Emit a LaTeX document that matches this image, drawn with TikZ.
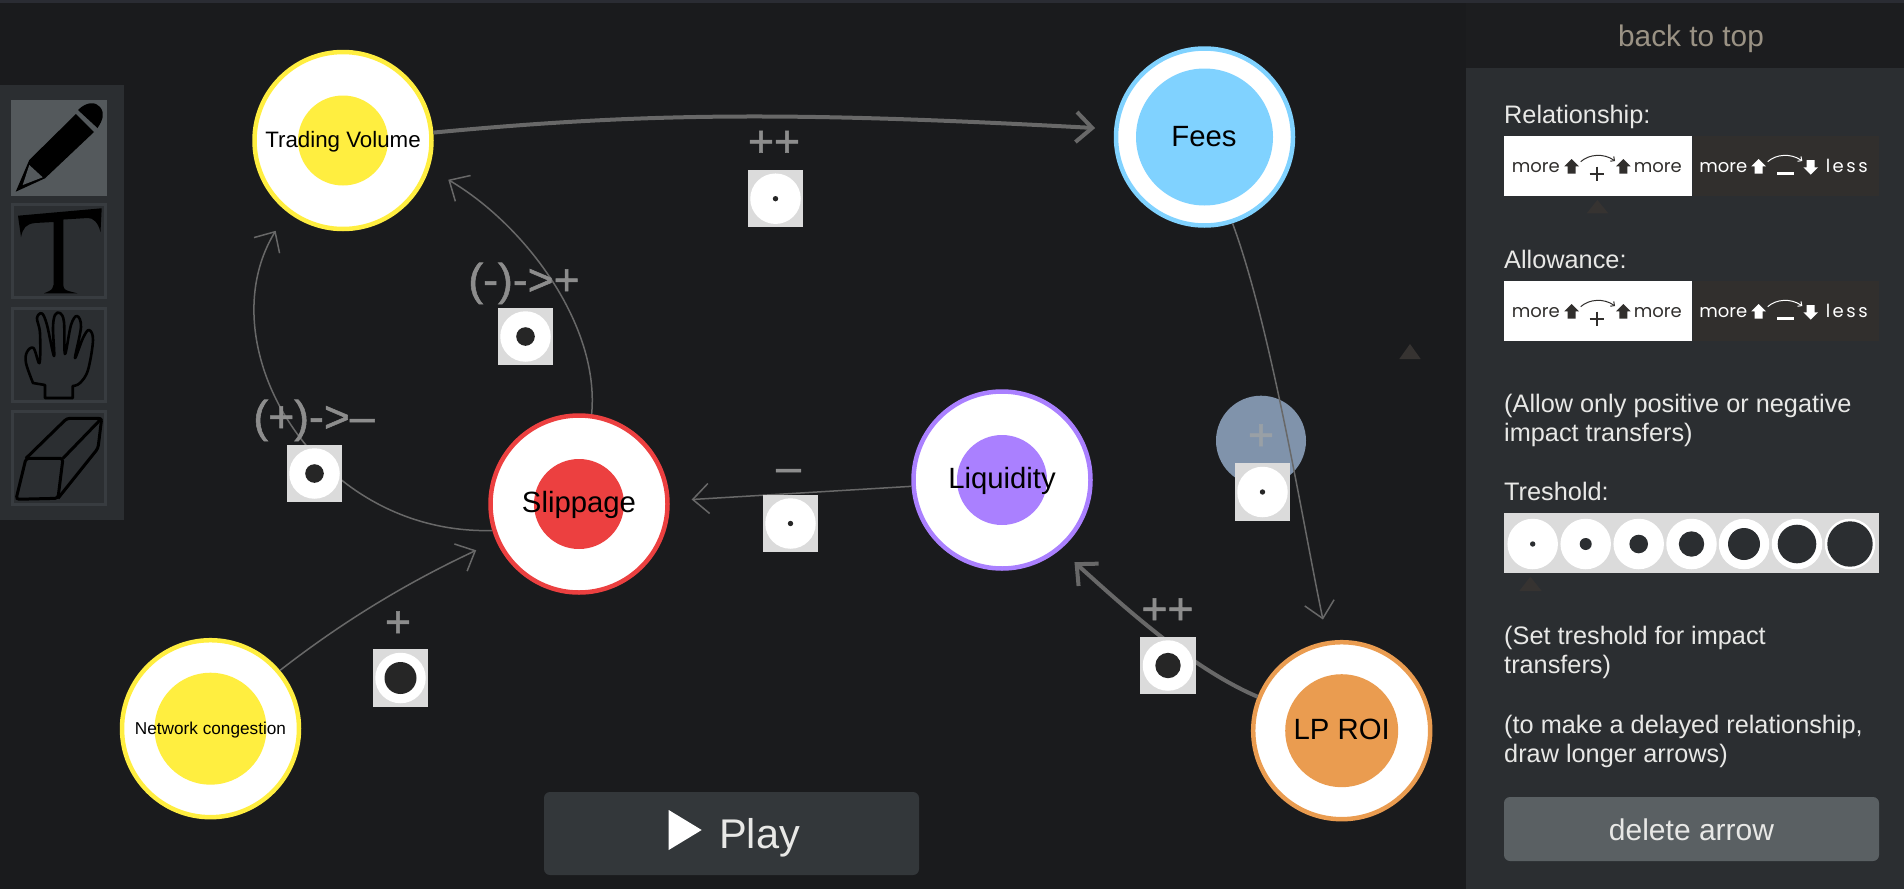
\documentclass[tikz,border=0pt]{standalone}
\usepackage{fontspec}
\usepackage{xcolor}
\usepackage{tikz}
\usetikzlibrary{arrows.meta}
\setmainfont{Liberation Sans}
\newfontfamily\signfont[FakeBold=1.2]{Liberation Sans}
\newfontfamily\iconfont{Poppins}
\newfontfamily\lessfont[LetterSpace=14]{Poppins}
\definecolor{canvas_bg}{HTML}{1A1B1D}
\definecolor{header_bg}{HTML}{1C1D1F}
\definecolor{panel_bg}{HTML}{2B2E31}
\definecolor{strip_bg}{HTML}{2A2C33}
\definecolor{tool_edge}{HTML}{383C40}
\definecolor{tool_active}{HTML}{54595C}
\definecolor{delete_fill}{HTML}{5A6063}
\definecolor{play_fill}{HTML}{33373A}
\definecolor{link_grey}{HTML}{686868}
\definecolor{sign_grey}{HTML}{8D8D8D}
\definecolor{hole_dark}{HTML}{262626}
\definecolor{box_grey}{HTML}{DBDBDB}
\definecolor{icon_dark}{HTML}{312F2D}
\definecolor{mark_dark}{HTML}{363331}
\definecolor{soft_white}{HTML}{E8E8E6}
\definecolor{top_link}{HTML}{9A9284}
\definecolor{yellow_node}{HTML}{FFEE40}
\definecolor{blue_node}{HTML}{80D2FF}
\definecolor{purple_node}{HTML}{AA80FF}
\definecolor{red_node}{HTML}{EC4040}
\definecolor{orange_node}{HTML}{EA9C50}
\definecolor{pending_fill}{HTML}{8093AB}
\definecolor{pending_sign}{HTML}{99A0A6}

\begin{document}
\begin{tikzpicture}[x=1pt,y=-1pt]
      \tikzstyle{stock_ring}=[circle,fill=white,line width=4.5pt,minimum size=177pt,inner sep=0pt]
      \tikzstyle{stock_core}=[circle,outer sep=0pt,inner sep=0pt]
      \tikzstyle{stock_text}=[anchor=base,text=black,inner sep=0pt,font=\fontsize{29.3}{34}\selectfont]
      \tikzstyle{impact_box}=[rectangle,fill=box_grey,minimum width=55.5pt,minimum height=57.5pt,inner sep=0pt,outer sep=0pt]
      \tikzstyle{impact_disc}=[circle,fill=white,minimum size=50.5pt,inner sep=0pt,outer sep=0pt]
      \tikzstyle{impact_hole}=[circle,fill=hole_dark,inner sep=0pt,outer sep=0pt]
      \tikzstyle{sign_text}=[anchor=base,text=sign_grey,inner sep=0pt,font=\signfont\fontsize{44.5}{50}\selectfont]
      \tikzstyle{link_thin}=[draw=link_grey,line width=1.5pt,shorten >=22pt,-{Straight Barb[length=16pt,width=30pt]}]
      \tikzstyle{link_thick}=[link_thin,line width=4pt,shorten >=19pt]
      \tikzstyle{panel_text}=[anchor=base west,text=soft_white,inner sep=0pt,align=left,font=\fontsize{25.3}{29}\selectfont]
      \tikzstyle{tool_button}=[draw=tool_edge,line width=3pt]
      \tikzstyle{icon_text}=[anchor=base,inner sep=0pt,font=\iconfont\fontsize{18}{20}\selectfont]
      \tikzstyle{less_text}=[anchor=base,inner sep=0pt,font=\lessfont\fontsize{18}{20}\selectfont]
      \tikzstyle{marker_mark}=[fill=mark_dark]

      \useasboundingbox (0,0) rectangle (1904,889);
      \fill[canvas_bg] (0,0) rectangle (1904,889);
      \fill[strip_bg] (0,0) rectangle (1904,3);
      \fill[header_bg] (1466,3) rectangle (1904,68);
      \fill[panel_bg] (1466,68) rectangle (1904,889);

      \begin{scope}
        \fill[panel_bg] (0,85) rectangle (124,520);
        \fill[tool_active] (11,100) rectangle (107,196);
        \draw[tool_button] (12.5,204.5) rectangle (105.5,297.5);
        \draw[tool_button] (12.5,308.5) rectangle (105.5,401.5);
        \draw[tool_button] (12.5,411.5) rectangle (105.5,504.5);

        \fill[black] (15.7,191.7) -- (29.3,160) -- (76,114) -- (94,132) -- (45,178.3) -- cycle;
        \fill[black] (78,110) .. controls (87,101) and (96,102) .. (100,107) .. controls (105,113) and (103,120) .. (97.5,128) -- cycle;
        \fill[tool_active] (29.3,165) -- (42.7,177.3) -- (22.7,185) -- cycle;

        \fill[black] (18,215.7) -- (101.7,208.3) -- (100.5,232) .. controls (98,222) and (93,218) .. (88,218) -- (63.5,219.5) -- (63.3,285) .. controls (64,290) .. (77.3,293.3) -- (44,293.3) .. controls (52,290) .. (53.5,285) -- (53.5,222) -- (35,223) .. controls (26,224) and (23,228) .. (21,237) -- cycle;

        \draw[black,line width=2.6pt,line join=round] (45,398) -- (45,385) -- plot[smooth,tension=.6] coordinates {(33,383) (26,363) (27,352) (33.5,348) (39.5,363) (40,333) (37,318) (42,313.5) (47,325) (54,356) (53,328) (55,315) (60,313) (64,322) (65,354) (71,325) (77,316) (81,327) (75,358) (83,338) (89,330) (93,340) (88,370) (80,383) (72.7,386)} -- (72.7,398) -- cycle;

        \draw[black,line width=3pt,rounded corners=3pt] (26,458.3) -- (63,458.3) -- (58,498.3) -- (16,499.3) -- cycle;
        \draw[black,line width=3pt,rounded corners=3pt] (26,458.3) -- (67,418.3) -- (101.7,418.3) -- (98,448.3) -- (58,498.3);
        \draw[black,line width=3pt,rounded corners=2pt] (63,458.3) -- (101.7,418.3);
      \end{scope}

      \node (top_text) at (1691,46.5) [anchor=base,text=top_link,inner sep=0pt,font=\fontsize{29.8}{34}\selectfont] {back to top};
      \node (rel_text) at (1504,123.7) [panel_text] {Relationship:};
      \node (allow_text) at (1504,268.3) [panel_text] {Allowance:};
      \node (allow_note) at (1504,441) [panel_text] {(Allow only positive or negative\\impact transfers)};
      \node (tresh_text) at (1504,500) [panel_text] {Treshold:};
      \node (tresh_note) at (1504,673) [panel_text] {(Set treshold for impact\\transfers)};
      \node (delay_note) at (1504,762) [panel_text] {(to make a delayed relationship,\\draw longer arrows)};

      \foreach \rowname/\rowtop in {rel/136,allow/281} {
        \begin{scope}[shift={(1504,\rowtop)}]
          \fill[white] (0,0) rectangle (187.7,59.7);
          \fill[icon_dark] (188.5,0) rectangle (375,59.7);
          \node (\rowname_more_a) at (31.8,36.3) [icon_text,text=icon_dark] {more};
          \node (\rowname_more_b) at (153.8,36.3) [icon_text,text=icon_dark] {more};
          \node (\rowname_more_c) at (219.3,36.3) [icon_text,text=white] {more};
          \node (\rowname_less) at (342.7,36.3) [less_text,text=white] {less};
          \foreach \ax/\acol in {67.7/icon_dark,119.3/icon_dark,254.7/white} {
            \fill[\acol] (\ax,23) -- (\ax+7.3,30.3) -- (\ax+4,30.3) -- (\ax+4,37.7) -- (\ax-4,37.7) -- (\ax-4,30.3) -- (\ax-7.3,30.3) -- cycle;
          }
          \fill[white] (306.7,38.7) -- (299.4,31.4) -- (302.7,31.4) -- (302.7,24) -- (310.7,24) -- (310.7,31.4) -- (314,31.4) -- cycle;
          \draw[icon_dark,line width=1pt,-{Straight Barb[length=3pt,width=6pt]}] (76.7,25.7) .. controls (85,18) and (100,17) .. (111,25);
          \draw[white,line width=1pt,-{Straight Barb[length=3pt,width=6pt]}] (263.7,25.7) .. controls (272,18) and (287,17) .. (298.3,25);
          \draw[icon_dark,line width=2pt] (85.7,38) -- (100.3,38) (93,30.7) -- (93,45.3);
          \draw[white,line width=2.2pt] (273.3,37.5) -- (290,37.5);
        \end{scope}
      }

      \fill[box_grey] (1504,513) rectangle (1879,573);
      \foreach \i/\tx/\size in {1/1532.7/5.4,2/1585.7/12,3/1638.7/18.6,4/1691.5/25.4,5/1744/32,6/1797/38.6,7/1850/45.4} {
        \node (tresh_disc_\i) at (\tx,544) [impact_disc] {};
        \node (tresh_hole_\i) at (tresh_disc_\i) [impact_hole,fill=panel_bg,minimum size=\size pt] {};
      }

      \fill[marker_mark] (1597.3,200) -- (1608.3,213.3) -- (1586.7,213.3) -- cycle;
      \fill[marker_mark] (1530.3,576.7) -- (1541.7,591) -- (1519.3,591) -- cycle;
      \fill[marker_mark] (1410,344) -- (1420.7,359) -- (1399.3,359) -- cycle;

      \node (delete_btn) at (1691.5,829) [rectangle,fill=delete_fill,rounded corners=6pt,minimum width=375pt,minimum height=64pt,inner sep=0pt] {};
      \node (delete_text) at (1691.5,840) [anchor=base,text=soft_white,inner sep=0pt,font=\fontsize{30}{34}\selectfont] {delete arrow};

      \node (play_btn) at (731.5,833.5) [rectangle,fill=play_fill,rounded corners=6pt,minimum width=375pt,minimum height=83pt,inner sep=0pt] {};
      \fill[white] (668.7,810) -- (701.7,830) -- (668.7,850) -- cycle;
      \node (play_text) at (759.5,848) [anchor=base,text=soft_white,inner sep=0pt,font=\fontsize{41.5}{46}\selectfont] {Play};

      \begin{scope}
        \node (volume) at (343,140.5) [stock_ring,draw=yellow_node] {};
        \node (volume_core) at (volume) [stock_core,fill=yellow_node,minimum size=90pt] {};
        \node (volume_text) at (343,147) [stock_text,font=\fontsize{22.3}{26}\selectfont] {Trading Volume};

        \node (fees) at (1204.5,137) [stock_ring,draw=blue_node] {};
        \node (fees_core) at (fees) [stock_core,fill=blue_node,minimum size=137pt] {};
        \node (fees_text) at (1204,146) [stock_text] {Fees};

        \node (liquidity) at (1002,480) [stock_ring,draw=purple_node] {};
        \node (liquidity_core) at (liquidity) [stock_core,fill=purple_node,minimum size=90pt] {};
        \node (liquidity_text) at (1002,488) [stock_text] {Liquidity};

        \node (slippage) at (579,504) [stock_ring,draw=red_node] {};
        \node (slippage_core) at (slippage) [stock_core,fill=red_node,minimum size=90pt] {};
        \node (slippage_text) at (579,512) [stock_text] {Slippage};

        \node (network) at (210.5,728.7) [stock_ring,draw=yellow_node] {};
        \node (network_core) at (network) [stock_core,fill=yellow_node,minimum size=112pt] {};
        \node (network_text) at (210.5,734) [stock_text,font=\fontsize{17.2}{20}\selectfont] {Network congestion};

        \node (roi) at (1341.7,730.7) [stock_ring,draw=orange_node] {};
        \node (roi_core) at (roi) [stock_core,fill=orange_node,minimum size=113pt] {};
        \node (roi_text) at (1341.7,739) [stock_text] {LP ROI};
      \end{scope}

      \node (pending) at (1261,440.7) [circle,fill=pending_fill,minimum size=90pt,inner sep=0pt,outer sep=0pt] {};

      \draw[link_thick] (volume.5) .. controls (650,112) and (800,112) .. (fees.175);
      \draw[link_thin] (fees.-72) .. controls (1272,330) and (1304,530) .. (roi.99);
      \draw[link_thin] (liquidity.184) -- (slippage.2);
      \draw[link_thin] (network.40) .. controls (360,608) and (430,572) .. (slippage.204);
      \draw[link_thin] (slippage.82) .. controls (600,325) and (525,225) .. (volume.-18);
      \draw[link_thin] (slippage.197) .. controls (315,535) and (206,345) .. (volume.232);
      \draw[link_thick] (roi.158) .. controls (1190,668) and (1120,603) .. (liquidity.-50);

      \begin{scope}
        \node (box_fees) at (775.5,198.7) [impact_box] {};
        \node (disc_fees) at (box_fees) [impact_disc] {};
        \node (hole_fees) at (disc_fees) [impact_hole,minimum size=5.4pt] {};
        \node (sign_fees) at (774,156.5) [sign_text] {++};

        \node (box_up) at (525.5,336.5) [impact_box] {};
        \node (disc_up) at (box_up) [impact_disc] {};
        \node (hole_up) at (disc_up) [impact_hole,minimum size=18.6pt] {};
        \node (sign_up) at (524,295) [sign_text] {(-)->+};

        \node (box_down) at (314.5,473.5) [impact_box] {};
        \node (disc_down) at (box_down) [impact_disc] {};
        \node (hole_down) at (disc_down) [impact_hole,minimum size=18.6pt] {};
        \node (sign_down) at (314,432) [sign_text] {(+)->–};

        \node (box_net) at (400.5,678) [impact_box] {};
        \node (disc_net) at (box_net) [impact_disc] {};
        \node (hole_net) at (disc_net) [impact_hole,minimum size=32pt] {};
        \node (sign_net) at (398,637) [sign_text] {+};

        \node (box_liq) at (790.5,523.5) [impact_box] {};
        \node (disc_liq) at (box_liq) [impact_disc] {};
        \node (hole_liq) at (disc_liq) [impact_hole,minimum size=5.4pt] {};
        \node (sign_liq) at (788.6,482) [sign_text] {–};

        \node (box_roi) at (1168,665.5) [impact_box] {};
        \node (disc_roi) at (box_roi) [impact_disc] {};
        \node (hole_roi) at (disc_roi) [impact_hole,minimum size=25.4pt] {};
        \node (sign_roi) at (1167.5,624) [sign_text] {++};

        \node (box_pending) at (1262.5,492) [impact_box] {};
        \node (disc_pending) at (box_pending) [impact_disc] {};
        \node (hole_pending) at (disc_pending) [impact_hole,minimum size=5.4pt] {};
        \node (sign_pending) at (1261,450) [sign_text,text=pending_sign] {+};
      \end{scope}
\end{tikzpicture}
\end{document}
